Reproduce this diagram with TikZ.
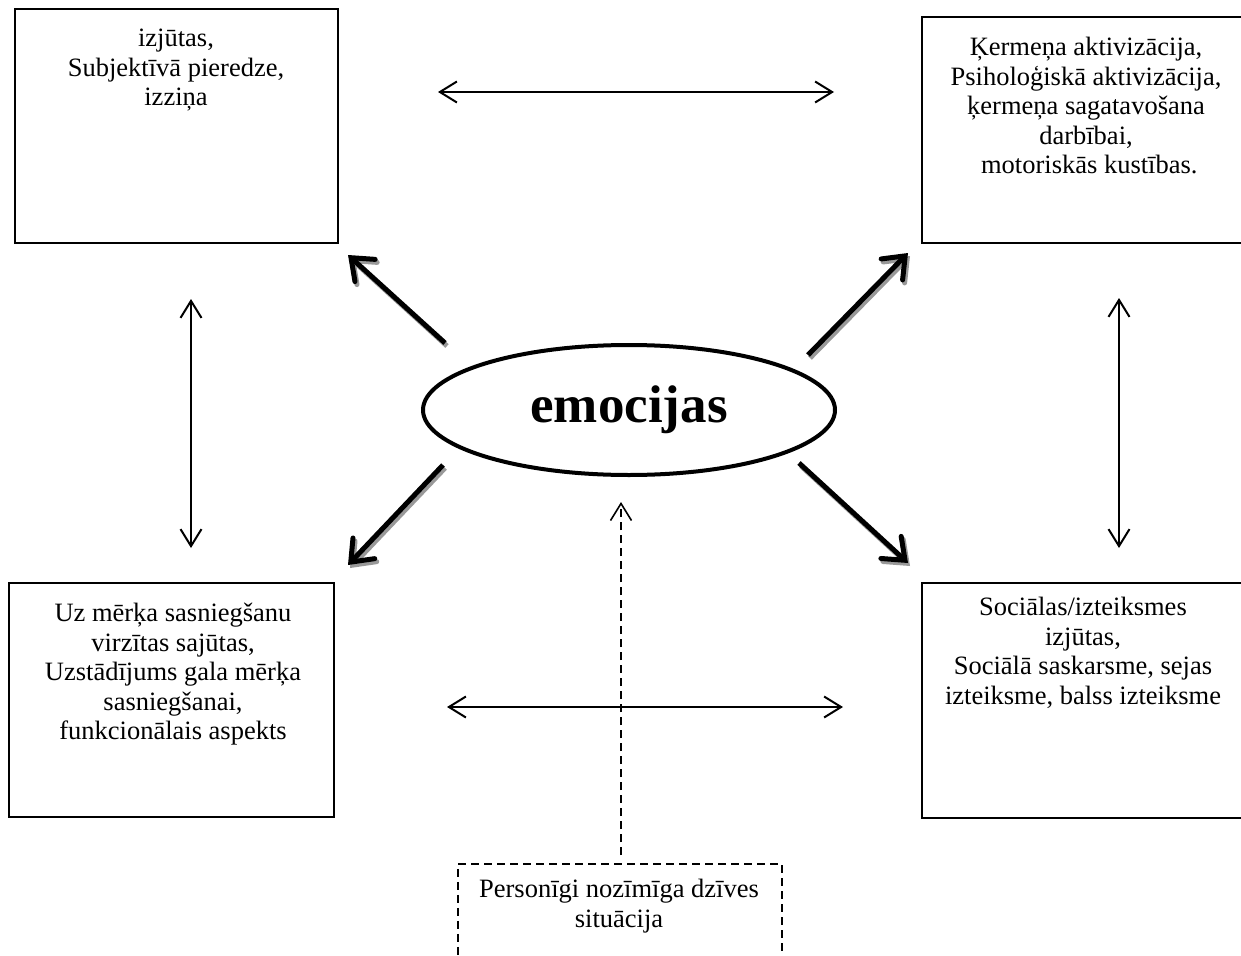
\documentclass[tikz,border=0pt]{standalone}
\usepackage{fontspec}
\setmainfont{Liberation Serif}
\usetikzlibrary{arrows.meta,shapes.geometric}
\tikzset{
  boxst/.style={draw, line width=1.6pt, inner sep=0pt, anchor=north west},
  txt/.style={align=center, inner sep=0pt, anchor=north, font=\fontsize{26.5}{29.5}\selectfont},
  thin arrow/.style={line width=2pt, {Straight Barb[length=17pt,width=21pt]}-{Straight Barb[length=17pt,width=21pt]}},
  thick arrow/.style={line width=5pt, -{Straight Barb[length=19pt,width=30pt,line cap=round]}},
  shadow arrow/.style={thick arrow, draw=black!40, transform canvas={xshift=2pt,yshift=-3pt}},
  dashst/.style={line width=1.6pt, dash pattern=on 8pt off 5pt}
}
\begin{document}
\begin{tikzpicture}[x=1pt,y=-1pt]
\useasboundingbox (0,0) rectangle (1241,955);
\clip (0,0) rectangle (1241,955);
\fill[white] (0,0) rectangle (1241,955);

% boxes
\node[boxst, minimum width=323pt, minimum height=234pt] (tl) at (14,8) {};
\node[boxst, minimum width=340pt, minimum height=226pt] (tr) at (921,16) {};
\node[boxst, minimum width=325pt, minimum height=234pt] (bl) at (8,582) {};
\node[boxst, minimum width=340pt, minimum height=235pt] (br) at (921,582) {};
\node[boxst, dashst, minimum width=324pt, minimum height=140pt] (sit) at (457,863) {};

% texts
\node[txt] (tlt) at (176,29) {izjūtas,\\Subjektīvā pieredze,\\izziņa};
\node[txt] (trt) at (1086,37) {Ķermeņa aktivizācija,\\Psiholoģiskā aktivizācija,\\ķermeņa sagatavošana\\darbībai,\\\ motoriskās kustības.};
\node[txt] (blt) at (173,603) {Uz mērķa sasniegšanu\\virzītas sajūtas,\\Uzstādījums gala mērķa\\sasniegšanai,\\funkcionālais aspekts};
\node[txt] (brt) at (1083,597) {Sociālas/izteiksmes\\izjūtas,\\Sociālā saskarsme, sejas\\izteiksme, balss izteiksme};
\node[txt] (sitt) at (619,879) {Personīgi nozīmīga dzīves\\situācija};

% central ellipse
\node[draw, ellipse, line width=4pt, inner sep=0pt, minimum width=412pt, minimum height=130pt,
      font=\fontsize{53}{60}\selectfont\bfseries] (emo) at (629,410) {emocijas};

% coordinates for arrows
\coordinate (ultail) at (445,343); \coordinate (ulhead) at (348,255);
\coordinate (urtail) at (808,355); \coordinate (urhead) at (908,253);
\coordinate (lltail) at (443,465); \coordinate (llhead) at (348,565);
\coordinate (lrtail) at (799,463); \coordinate (lrhead) at (908,563);

% thick arrows with shadow
\foreach \t/\h in {ultail/ulhead, urtail/urhead, lltail/llhead, lrtail/lrhead}{
  \draw[shadow arrow] (\t) -- (\h);
  \draw[thick arrow] (\t) -- (\h);
}

% thin double arrows
\coordinate (ta1) at (438,92); \coordinate (ta2) at (834,92);
\coordinate (ba1) at (447,707); \coordinate (ba2) at (843,707);
\coordinate (la1) at (191,299); \coordinate (la2) at (191,548);
\coordinate (ra1) at (1119,298); \coordinate (ra2) at (1119,548);
\draw[thin arrow] (ta1) -- (ta2);
\draw[thin arrow] (ba1) -- (ba2);
\draw[thin arrow] (la1) -- (la2);
\draw[thin arrow] (ra1) -- (ra2);

% dashed arrow from situation box to ellipse
\coordinate (dtop) at (621,502);
\draw[dashst, -{Straight Barb[length=17pt,width=21pt]}] (sit.north -| dtop) ++(0,-8) -- (dtop);
\end{tikzpicture}
\end{document}
